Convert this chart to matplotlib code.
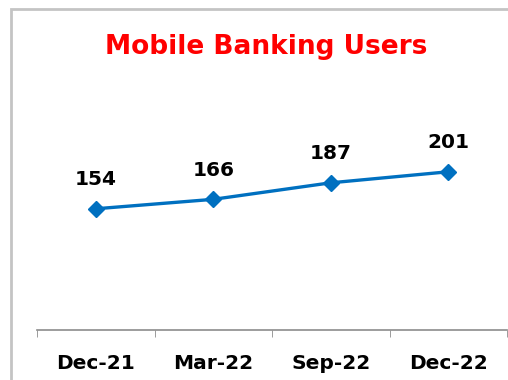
import matplotlib.pyplot as plt
from matplotlib.patches import Rectangle

quarters = ['Dec-21', 'Mar-22', 'Sep-22', 'Dec-22']
users = [154, 166, 187, 201]

fig = plt.figure(figsize=(5.08, 3.80), dpi=100)

# light grey frame around the chart area
fig.patches.append(Rectangle((11 / 508, -0.1), 1.0, 1 - 9 / 380 + 0.1,
                             transform=fig.transFigure, fill=False,
                             edgecolor='#c4c4c4', linewidth=2))

ax = fig.add_axes([37 / 508, 50 / 380, 470 / 508, 270 / 380])
x = range(len(quarters))
ax.plot(x, users, color='#0070C0', linewidth=2.4, marker='D', markersize=8)

for xi, v in zip(x, users):
    ax.annotate(str(v), (xi, v), xytext=(0, 14), textcoords='offset points',
                ha='center', va='bottom', fontsize=14.5, fontweight='bold')

ax.set_xlim(-0.5, 3.5)
ax.set_ylim(0, 343)
ax.set_yticks([])
ax.set_xticks(x)
ax.set_xticklabels(quarters, fontsize=14.5, fontweight='bold')
ax.set_xticks([-0.5, 0.5, 1.5, 2.5, 3.5], minor=True)
ax.tick_params(axis='x', which='major', length=0, pad=17)
ax.tick_params(axis='x', which='minor', length=5, color='#8c8c8c', direction='out')
for s in ['top', 'left', 'right']:
    ax.spines[s].set_visible(False)
ax.spines['bottom'].set_color('#8c8c8c')
ax.spines['bottom'].set_linewidth(1.2)

fig.text(266 / 508, 1 - 47 / 380, 'Mobile Banking Users', color='red',
         fontsize=19, fontweight='bold', ha='center', va='center')

fig.savefig('out.png', dpi=100)
